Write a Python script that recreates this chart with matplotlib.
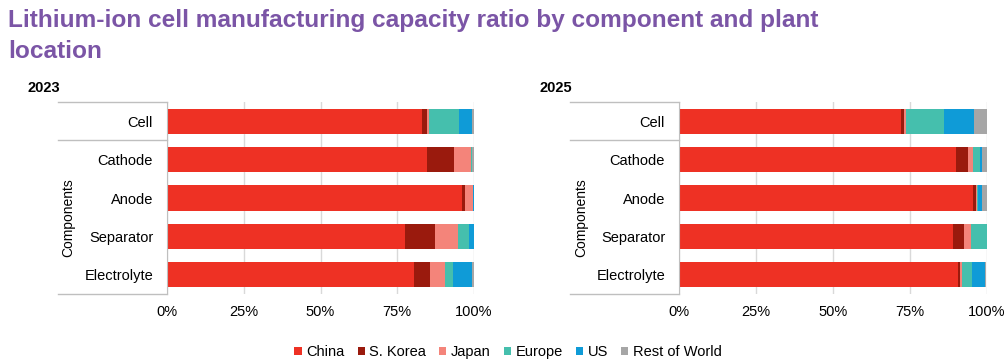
import numpy as np
import matplotlib
matplotlib.use("Agg")
import matplotlib.pyplot as plt
import matplotlib.transforms as mtransforms
from matplotlib.patches import Patch

plt.rcParams['font.family'] = ['Liberation Sans', 'DejaVu Sans']

rows = ["Cell", "Cathode", "Anode", "Separator", "Electrolyte"]
regions = ["China", "S. Korea", "Japan", "Europe", "US", "Rest of World"]
colors = ["#EE3124", "#9A1A0D", "#F4847A", "#45BFAD", "#0F9BD7", "#A6A6A6"]

# share of capacity (%) per row, one list per region
share_2023 = {
    "China":         [83.0, 84.8, 96.1, 77.5, 80.5],
    "S. Korea":      [1.8, 8.8, 0.9, 9.9, 5.3],
    "Japan":         [0.4, 5.4, 2.8, 7.3, 4.9],
    "Europe":        [9.9, 0.2, 0.0, 3.6, 2.4],
    "US":            [4.3, 0.0, 0.2, 1.7, 6.4],
    "Rest of World": [0.6, 0.8, 0.0, 0.0, 0.5],
}
share_2025 = {
    "China":         [72.2, 89.8, 95.5, 89.0, 90.7],
    "S. Korea":      [0.8, 4.0, 0.8, 3.4, 0.5],
    "Japan":         [0.8, 1.5, 0.4, 2.4, 0.8],
    "Europe":        [12.3, 2.4, 0.5, 5.3, 3.1],
    "US":            [9.7, 0.8, 1.2, 0.0, 4.2],
    "Rest of World": [4.2, 1.5, 1.6, 0.0, 0.3],
}

xticks = [0, 25, 50, 75, 100]
xticklabels = ["0%", "25%", "50%", "75%", "100%"]

W, H = 1006, 360
fig = plt.figure(figsize=(W / 100, H / 100), dpi=100)

fig.text(8 / W, 1 - 9 / H,
         "Lithium-ion cell manufacturing capacity ratio by component and plant\nlocation",
         ha="left", va="top", fontsize=17.6, fontweight="bold", color="#7B55A6",
         linespacing=1.42)

grid_c = "#D9D9D9"
line_c = "#BFBFBF"


def panel(x0, x1, box_x, year, data):
    ax = fig.add_axes([x0 / W, 1 - 294 / H, (x1 - x0) / W, 192 / H])
    y = np.arange(len(rows))
    left = np.zeros(len(rows))
    for reg, col in zip(regions, colors):
        vals = np.array(data[reg])
        ax.barh(y, vals, left=left, height=0.66, color=col, edgecolor="none", zorder=3)
        left += vals
    ax.set_xlim(0, 100)
    ax.set_ylim(len(rows) - 0.5, -0.5)
    ax.set_xticks(xticks)
    ax.set_xticklabels(xticklabels, fontsize=10.5)
    ax.tick_params(axis="x", length=0, pad=8, colors="#000000")
    ax.set_yticks(y)
    ax.set_yticklabels(rows, fontsize=10.5)
    ax.tick_params(axis="y", length=0, pad=10)
    ax.grid(axis="x", color=grid_c, linewidth=1, zorder=0)
    for s in ["top", "right", "bottom"]:
        ax.spines[s].set_visible(False)
    ax.spines["left"].set_color(line_c)
    ax.spines["left"].set_zorder(4)

    # category box on the left: top, divider under "Cell", bottom
    tr = mtransforms.blended_transform_factory(ax.transAxes, ax.transData)
    bx = (box_x - x0) / (x1 - x0)
    for yy in [-0.5, 0.5, len(rows) - 0.5]:
        ax.plot([bx, 0], [yy, yy], transform=tr, color=line_c, lw=1,
                clip_on=False, zorder=4)
    ax.text(bx + 0.035, 2.5, "Components", transform=tr, rotation=90,
            ha="center", va="center", fontsize=10)
    fig.text((box_x - 31) / W, 1 - 88 / H, year, ha="left", va="center",
             fontsize=10.5, fontweight="bold")
    return ax


panel(167, 474, 58, "2023", share_2023)
panel(679, 987, 570, "2025", share_2025)

handles = [Patch(facecolor=c, edgecolor="none") for c in colors]
fig.legend(handles, regions, loc="center", bbox_to_anchor=(508 / W, 1 - 352 / H),
           ncol=6, frameon=False, fontsize=10.5, handlelength=0.5,
           handleheight=0.5, handletextpad=0.3, columnspacing=0.9)

fig.savefig("out.png", dpi=100)
